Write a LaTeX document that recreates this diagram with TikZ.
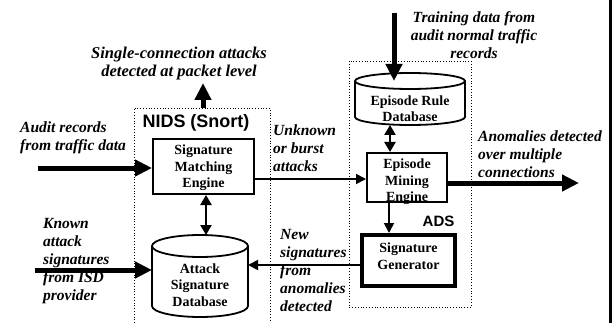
\documentclass[tikz,border=0pt]{standalone}
\usepackage{fontspec}
\setmainfont{Liberation Serif}
\newfontfamily\arialb{Liberation Sans}
\usetikzlibrary{arrows.meta,calc}
\begin{document}
\begin{tikzpicture}[x=1pt,y=-1pt,
  lab/.style={font=\bfseries\itshape\fontsize{15.5}{18}\selectfont, align=left, inner sep=0pt},
  labc/.style={lab, align=center},
  boxtxt/.style={font=\bfseries\fontsize{14}{16.5}\selectfont, align=center, inner sep=0pt},
  procbox/.style={draw, line width=2pt, inner sep=0pt},
  sgbox/.style={draw, line width=4pt, inner sep=0pt},
  dbshape/.style={inner sep=0pt, outer sep=0pt},
  cylline/.style={line width=1.8pt},
  bigarrow/.style={line width=5pt, -{Triangle[length=17pt,width=16pt]}},
  smallarrow/.style={line width=1.8pt, -{Triangle[length=10pt,width=10pt]}},
  dblarrow/.style={line width=2.5pt, {Triangle[length=10pt,width=11pt]}-{Triangle[length=10pt,width=11pt]}},
  zone/.style={dotted, line width=0.8pt},
  zonelabel/.style={font=\arialb\bfseries\fontsize{16}{18}\selectfont, inner sep=0pt}]
\useasboundingbox (0,0) rectangle (612,323);
\fill (609,0) rectangle (612,323);

% zones
\draw[zone] (134,323) -- (134,108) -- (270,108) -- (270,323);
\draw[zone] (349,61) rectangle (471,307);
\node[zonelabel, font=\arialb\bfseries\fontsize{18}{20}\selectfont] (nidslab) at (196,123) {NIDS (Snort)};
\node[zonelabel, font=\arialb\bfseries\fontsize{15}{18}\selectfont] (adslab) at (438.5,221) {ADS};

% boxes
\node[procbox, minimum width=101pt, minimum height=55pt] (sme) at (203.5,166.5) {};
\node[boxtxt] (smet) at (203.5,168) {Signature\\Matching\\Engine};
\node[procbox, minimum width=80pt, minimum height=49pt] (eme) at (407,177.5) {};
\node[boxtxt] (emet) at (407,182) {Episode\\Mining\\Engine};
\node[sgbox, minimum width=93pt, minimum height=51pt] (sg) at (408.5,260.5) {};
\node[boxtxt] (sgt) at (408.5,256) {Signature\\Generator};

% databases
\node[dbshape, minimum width=110pt, minimum height=52pt] (erd) at (410,99) {};
\draw[cylline] ([yshift=-8pt]erd.north) ellipse[x radius=55pt, y radius=8pt];
\draw[cylline] ([yshift=-8pt]erd.north west) -- ([yshift=8pt]erd.south west)
  arc[start angle=180, end angle=360, x radius=55pt, y radius=8pt] -- ([yshift=-8pt]erd.north east);
\node[boxtxt] (erdt) at (410,108.5) {Episode Rule\\Database};

\node[dbshape, minimum width=96pt, minimum height=82pt] (asd) at (200,276) {};
\draw[cylline] ([yshift=-11pt]asd.north) ellipse[x radius=48pt, y radius=11pt];
\draw[cylline] ([yshift=-11pt]asd.north west) -- ([yshift=11pt]asd.south west)
  arc[start angle=180, end angle=360, x radius=48pt, y radius=11pt] -- ([yshift=-11pt]asd.north east);
\node[boxtxt] (asdt) at (200,285) {Attack\\Signature\\Database};

% labels
\node[labc, font=\bfseries\itshape\fontsize{16.5}{18}\selectfont] (single) at (179,64) {Single-connection attacks\\detected at packet level};
\node[lab, anchor=west] (audit) at (20,137.5) {Audit records\\from traffic data};
\node[lab, anchor=west] (unknown) at (273,148) {Unknown\\or burst\\attacks};
\node[labc] (training) at (474,35) {Training data from\\audit normal traffic\\records};
\node[lab, anchor=west] (anom) at (478,154) {Anomalies detected\\over multiple\\connections};
\node[lab, anchor=west] (known) at (43,261) {Known\\attack\\signatures\\from ISD\\provider};
\node[lab, anchor=west] (newsig) at (280,270) {New\\signatures\\from\\anomalies\\detected};

% connectors
\coordinate (auditstart) at (38,168);
\draw[bigarrow] (auditstart) -- (auditstart -| sme.west);
\coordinate (knownstart) at (35,270);
\draw[bigarrow] (knownstart) -- (knownstart -| asd.west);
\coordinate (trainstart) at (394,13);
\draw[bigarrow] (trainstart) -- ([yshift=-8pt]trainstart |- erd.north);
\coordinate (nidstop) at (203,108);
\coordinate (singletip) at (203,83);
\draw[bigarrow] (nidstop) -- (singletip);
\coordinate (anomtip) at (579,183);
\draw[bigarrow] (anomtip -| eme.east) -- (anomtip);
\coordinate (burst) at (255,179);
\draw[smallarrow] (burst) -- (burst -| eme.west);
\draw[smallarrow] ([xshift=-18pt]eme.south) -- ([xshift=-18pt]eme.south |- sg.north);
\draw[dblarrow] ([xshift=-20pt]erd.south) -- ([xshift=-20pt]erd.south |- eme.north);
\draw[dblarrow] ([xshift=2.5pt]sme.south) -- ([xshift=2.5pt]sme.south |- asd.north);
\draw[smallarrow] ([yshift=-4.5pt]sg.west) -- ([yshift=-4.5pt]sg.west -| asd.east);
\end{tikzpicture}
\end{document}
